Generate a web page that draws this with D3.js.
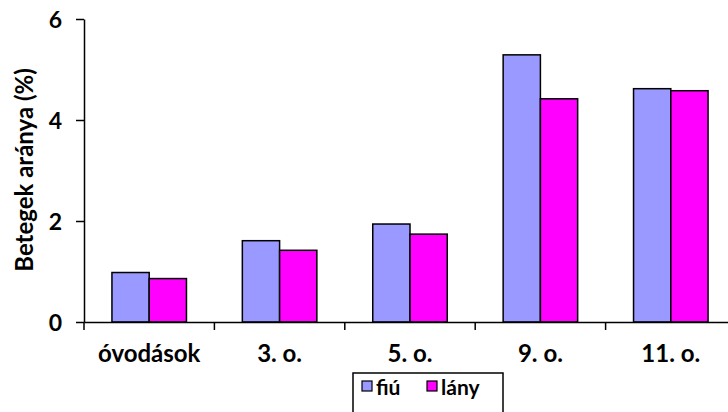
<!DOCTYPE html>
<html>
<head>
<meta charset="utf-8">
<script src="https://cdn.jsdelivr.net/npm/d3@7"></script>
<style>
  html, body { margin: 0; padding: 0; background: #fff; }
  svg { display: block; }
  text { font-family: Lato, "Open Sans", sans-serif; font-weight: bold; fill: #000; }
</style>
</head>
<body>
<svg id="chart" width="728" height="412"></svg>
<script>
// Share of affected children by school stage, boys vs girls
const categories = ["óvodások", "3. o.", "5. o.", "9. o.", "11. o."];
const seriesNames = ["fiú", "lány"];
const fiuValues = [0.98, 1.61, 1.94, 5.29, 4.62];
const lanyValues = [0.86, 1.42, 1.74, 4.42, 4.58];
const yTicks = [0, 2, 4, 6];
const seriesColors = ["#9999ff", "#ff00ff"];

const data = categories.map((c, i) => ({ category: c, values: [fiuValues[i], lanyValues[i]] }));

const svg = d3.select("#chart");
const plotLeft = 84, plotRight = 736, plotTop = 19, plotBottom = 322;

const x = d3.scaleBand().domain(categories).range([plotLeft, plotRight]).paddingInner(0).paddingOuter(0);
const barW = x.bandwidth() / 3.5;
const xs = d3.scaleBand().domain(seriesNames).range([0, barW * 2]);
const y = d3.scaleLinear().domain([0, 6]).range([plotBottom, plotTop]);

// Bars
const groups = svg.append("g").selectAll("g").data(data).join("g")
  .attr("transform", d => `translate(${x(d.category) + (x.bandwidth() - barW * 2) / 2},0)`);
groups.selectAll("rect")
  .data(d => d.values.map((v, j) => ({ name: seriesNames[j], value: v, j })))
  .join("rect")
  .attr("x", d => xs(d.name))
  .attr("y", d => y(d.value))
  .attr("width", xs.bandwidth())
  .attr("height", d => y(0) - y(d.value))
  .attr("fill", d => seriesColors[d.j])
  .attr("stroke", "#000")
  .attr("stroke-width", 1.5);

// Y axis
const yAxis = svg.append("g").attr("transform", `translate(${plotLeft},0)`)
  .call(d3.axisLeft(y).tickValues(yTicks).tickFormat(d3.format("d")).tickSize(8).tickSizeOuter(0));
yAxis.select(".domain").attr("stroke", "#000").attr("stroke-width", 1.5);
yAxis.selectAll(".tick line").attr("stroke", "#000").attr("stroke-width", 1.5);
yAxis.selectAll(".tick text").attr("font-size", 23).attr("x", -22).attr("dy", "0.36em")
  .style("font-family", "Lato, sans-serif").style("font-weight", "bold");

// X axis
const xAxis = svg.append("g").attr("transform", `translate(0,${plotBottom})`)
  .call(d3.axisBottom(x).tickSize(0).tickSizeOuter(0));
xAxis.select(".domain").attr("stroke", "#000").attr("stroke-width", 1.5);
xAxis.selectAll(".tick text").attr("font-size", 24).attr("y", 40).attr("dy", 0)
  .style("font-family", "Lato, sans-serif").style("font-weight", "bold");
// Category separator ticks
svg.append("g").selectAll("line")
  .data(categories)
  .join("line")
  .attr("x1", d => x(d)).attr("x2", d => x(d))
  .attr("y1", plotBottom).attr("y2", plotBottom + 8)
  .attr("stroke", "#000").attr("stroke-width", 1.5);

// Y axis title
svg.append("text")
  .attr("transform", "translate(33,170) rotate(-90)")
  .attr("text-anchor", "middle")
  .attr("font-size", 24)
  .text("Betegek aránya (%)");

// Legend
const lg = svg.append("g").attr("transform", "translate(353,373)");
lg.append("rect").attr("width", 150).attr("height", 45)
  .attr("fill", "#fff").attr("stroke", "#000").attr("stroke-width", 1.5);
const legendX = [9, 74];
seriesNames.forEach((n, i) => {
  lg.append("rect").attr("x", legendX[i]).attr("y", 8).attr("width", 10).attr("height", 10)
    .attr("fill", seriesColors[i]).attr("stroke", "#000").attr("stroke-width", 1.2);
  lg.append("text").attr("x", legendX[i] + 14).attr("y", 22)
    .attr("font-size", 21).text(n);
});
</script>
</body>
</html>
